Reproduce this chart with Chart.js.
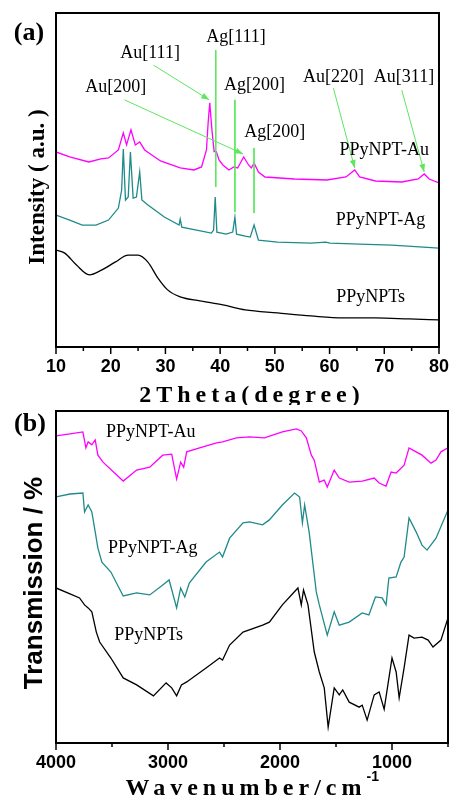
<!DOCTYPE html>
<html>
<head>
<meta charset="utf-8">
<script src="https://cdn.jsdelivr.net/npm/chart.js@4.4.1/dist/chart.umd.min.js"></script>
<style>
  body{margin:0;background:#fff;width:458px;height:801px;overflow:hidden;position:relative}
  .box{position:absolute;left:0;width:458px}
  #boxA{top:0;height:405px}
  #boxB{top:405px;height:396px}
</style>
</head>
<body>
<div class="box" id="boxA"><canvas id="xrd"></canvas></div>
<div class="box" id="boxB"><canvas id="ftir"></canvas></div>
<script>
// (a) XRD  2θ
const xrdTicks = [10,20,30,40,50,60,70,80];
const xrdMinor = [15,25,35,45,55,65,75];

// PPyNPT-Au
const auAngle = [10,12.5,16,18.2,19.6,21.4,22.3,22.9,23.7,24.5,25.3,26.2,29.1,32.7,35.2,36.6,37.5,37.8,38.1,38.5,38.9,39.3,39.8,40.5,41.6,42.5,43.2,44.3,45.2,45.7,46.2,47.0,48.2,53.6,59.5,63.0,64.6,65.5,68.4,73.2,76.2,77.3,78.2,80];
const auInt = [58.4,56.9,55.4,56.3,56.6,59.0,64.1,60.5,65.0,60.5,61.4,59.0,55.7,53.6,53.0,53.9,59.0,67.0,73.1,65.0,58.5,58.5,56.0,54.5,53.0,53.9,53.6,56.9,54.5,53.6,55.1,52.4,50.9,50.3,50.0,50.9,53.0,50.9,49.7,49.4,50.3,51.8,50.3,49.1];
// PPyNPT-Ag
const agAngle = [10,12.5,14.8,17.3,19.6,21.4,22.0,22.3,22.7,23.2,23.6,24.1,24.7,25.3,25.7,26.8,29.8,32.5,32.7,33.0,35.7,38.4,38.8,39.1,39.4,41.1,42.3,42.7,43.0,44.6,45.5,46.2,47.0,50.5,56.6,59.3,60.1,65.5,71.4,80];
const agInt = [39.5,38.0,36.5,36.5,38.0,41.6,47.0,59.3,44.0,44.9,58.4,44.6,44.9,52.4,44.0,42.5,38.9,36.5,38.3,35.9,35.0,34.1,35.0,44.9,34.4,33.8,34.4,38.9,33.8,33.2,32.9,36.5,32.0,31.4,31.1,31.4,31.1,30.8,30.5,29.6];
// PPyNPTs
const ppyAngle = [10,11.6,13.7,16.1,18.4,20.8,23.2,25.0,26.8,28.6,30.4,32.7,36.3,40.5,44.6,50.5,56.6,62.5,68.4,74.5,80];
const ppyInt = [29.0,28.1,24.6,21.6,23.1,25.4,27.5,27.5,25.4,20.7,17.1,15.0,13.8,12.6,11.1,10.2,9.3,8.7,8.7,8.4,8.1];

// (b) FTIR
const wnTicks = [4000,3000,2000,1000];
const wnMinor = [3500,2500,1500,500];

const ftAuWn = [4000,3875,3760,3733,3713,3680,3650,3626,3580,3400,3280,3163,3047,2967,2923,2887,2860,2833,2718,2566,2513,2389,2272,2139,1979,1854,1810,1765,1720,1694,1649,1605,1578,1516,1471,1382,1266,1159,1115,1053,1008,963,892,848,785,732,652,607,563,500];
const ftAuT = [92.5,93.1,93.7,88.9,90.7,89.8,91.3,86.7,84.6,78.9,82.2,83.1,86.7,87.0,79.5,84.6,83.1,87.7,88.9,90.4,90.7,91.9,92.2,91.9,93.7,94.6,94.0,91.9,86.7,85.2,78.6,79.2,77.1,82.2,79.8,78.6,78.9,79.8,78.3,77.4,81.6,81.3,83.7,88.9,87.7,86.7,84.3,85.2,87.7,88.9];
const ftAgWn = [4000,3875,3760,3745,3713,3680,3650,3626,3590,3510,3400,3280,3163,3047,2990,2923,2887,2850,2810,2660,2540,2513,2450,2330,2272,2155,2095,1979,1870,1825,1800,1780,1740,1676,1649,1578,1516,1471,1382,1266,1206,1148,1088,1053,1028,963,920,892,848,785,732,687,607,500];
const ftAgT = [74.1,75.0,75.3,69.6,71.7,69.6,63.6,58.7,54.5,51.5,44.3,45.2,44.6,47.6,49.1,40.7,46.7,44.0,48.2,54.5,57.5,56.0,61.7,66.3,66.6,65.7,67.2,71.7,75.3,74.1,66.3,71.7,63.6,45.5,41.6,32.5,39.5,35.5,36.4,39.2,38.6,44.0,43.7,41.6,49.7,50.0,54.5,56.0,67.8,63.6,59.6,58.1,61.7,70.2];
const ftPpyWn = [4000,3875,3790,3745,3713,3680,3640,3610,3510,3400,3280,3130,3017,2967,2923,2880,2833,2660,2540,2513,2450,2330,2155,2095,1979,1840,1810,1790,1750,1694,1649,1605,1570,1516,1471,1440,1382,1293,1266,1222,1159,1115,1070,1000,963,936,892,848,803,732,677,634,563,500];
const ftPpyT = [46.7,44.9,43.7,41.6,40.7,39.5,33.4,30.4,25.6,19.6,17.5,14.2,18.1,16.6,14.2,17.5,18.4,22.6,25.6,25.0,29.5,33.4,35.5,36.4,41.6,46.7,41.6,46.1,41.6,27.4,21.4,16.6,4.8,16.6,14.5,16.0,12.3,10.8,11.4,6.9,14.5,15.4,10.2,25.6,21.4,13.6,22.6,32.5,31.6,31.9,31.0,28.9,31.0,37.7];

// 注釈 (データ座標)  [x, yTop, yBottom]
const agLines = [[39.2,88.9,47.9],[42.7,74.0,40.4],[46.2,59.6,40.1]];
// 矢印 [x0,y0,x1,y1]
const auArrows = [[27.8,84.4,38.0,74.0],[22.5,74.0,44.2,57.8],[60.7,77.5,64.6,53.6],[73.2,76.9,77.3,52.4]];
const xrdNotes = [["Au[111]",27.2,88.0],["Ag[111]",42.9,92.8],["Au[200]",20.9,77.8],["Ag[200]",46.3,78.4],["Ag[200]",50.0,64.4],["Au[220]",60.7,80.8],["Au[311]",73.6,80.8],["PPyNPT-Au",70.0,59.0],["PPyNPT-Ag",69.3,38.0],["PPyNPTs",67.5,15.0]];
const ftirNotes = [["PPyNPT-Au",3154,93.7],["PPyNPT-Ag",3136,58.7],["PPyNPTs",3172,32.5]];

const green = '#5ee65e';
const magenta = '#ff00ff';
const teal = '#208a8a';

const pts = (xs, ys) => xs.map((v, i) => ({x: v, y: ys[i]}));
const trace = (xs, ys, color) => ({data: pts(xs, ys), borderColor: color, borderWidth: 1.3, pointRadius: 0, tension: 0});

// 枠・目盛り・文字
const decor = (cfg) => ({
  id: 'decor',
  afterDraw(chart) {
    const ctx = chart.ctx, a = chart.chartArea;
    const sx = chart.scales.x, sy = chart.scales.y;
    ctx.save();
    ctx.strokeStyle = '#000';
    ctx.lineWidth = 1.5;
    const tick = (v, len) => {
      const px = sx.getPixelForValue(v);
      ctx.beginPath(); ctx.moveTo(px, a.bottom); ctx.lineTo(px, a.bottom + len); ctx.stroke();
    };
    cfg.major.forEach(v => tick(v, 7));
    cfg.minor.forEach(v => tick(v, 4));
    ctx.lineWidth = 2;
    ctx.strokeRect(a.left, a.top, a.right - a.left, a.bottom - a.top);

    // 矢印の先
    ctx.fillStyle = green;
    (cfg.arrows || []).forEach(r => {
      const x0 = sx.getPixelForValue(r[0]), y0 = sy.getPixelForValue(r[1]);
      const x1 = sx.getPixelForValue(r[2]), y1 = sy.getPixelForValue(r[3]);
      const ang = Math.atan2(y1 - y0, x1 - x0), c = Math.cos(ang), s = Math.sin(ang);
      ctx.beginPath();
      ctx.moveTo(x1, y1);
      ctx.lineTo(x1 - 8 * c + 3 * s, y1 - 8 * s - 3 * c);
      ctx.lineTo(x1 - 8 * c - 3 * s, y1 - 8 * s + 3 * c);
      ctx.closePath(); ctx.fill();
    });

    ctx.fillStyle = '#000';
    ctx.textAlign = 'center'; ctx.textBaseline = 'middle';
    ctx.font = '18px "Liberation Serif"';
    cfg.notes.forEach(n => ctx.fillText(n[0], sx.getPixelForValue(n[1]), sy.getPixelForValue(n[2])));

    ctx.font = 'bold 26px "Liberation Serif"';
    ctx.fillText(cfg.panel, cfg.panelPos[0], cfg.panelPos[1]);

    // x軸タイトル (字間あり)
    ctx.font = cfg.xFont;
    ctx.letterSpacing = '5px';
    const w = ctx.measureText(cfg.xTitle).width;
    ctx.textAlign = 'left';
    ctx.fillText(cfg.xTitle, cfg.xTitlePos[0] - w / 2, cfg.xTitlePos[1]);
    ctx.letterSpacing = '0px';
    if (cfg.xSup) {
      ctx.font = 'bold 14px "Liberation Sans"';
      ctx.fillText(cfg.xSup, cfg.xTitlePos[0] + w / 2, cfg.xSupY);
    }

    // y軸タイトル
    ctx.translate(cfg.yTitlePos[0], cfg.yTitlePos[1]);
    ctx.rotate(-Math.PI / 2);
    ctx.font = cfg.yFont;
    ctx.textAlign = 'center';
    ctx.fillText(cfg.yTitle, 0, 0);
    ctx.restore();
  }
});

const tickFont = {family: '"Liberation Sans", Arial, sans-serif', size: 18, weight: 'bold'};

const xAxis = (min, max, tickList, height, reverse) => ({
  type: 'linear', min: min, max: max, reverse: reverse,
  grid: {display: false, drawTicks: false},
  border: {display: false},
  afterBuildTicks: (s) => { s.ticks = tickList.map(v => ({value: v})); },
  afterFit: (s) => { s.height = height; },
  ticks: {padding: 9, color: '#000', font: tickFont, maxRotation: 0, autoSkip: false, callback: (v) => String(v)}
});

const baseOptions = (top, xScale) => ({
  responsive: true,
  maintainAspectRatio: false,
  animation: false,
  layout: {padding: {left: 56, right: 10, top: top, bottom: 0}, autoPadding: false},
  plugins: {legend: {display: false}, tooltip: {enabled: false}},
  scales: {x: xScale, y: {display: false, min: 0, max: 100}}
});

// 緑の線
const xrdMarks = [];
agLines.forEach(l => xrdMarks.push({data: [{x: l[0], y: l[1]}, {x: l[0], y: l[2]}], borderColor: green, borderWidth: 1, pointRadius: 0}));
auArrows.forEach(r => xrdMarks.push({data: [{x: r[0], y: r[1]}, {x: r[2], y: r[3]}], borderColor: green, borderWidth: 1, pointRadius: 0}));

// PPyNPTs のXRDはなだらかなので補間
const ppyTrace = trace(ppyAngle, ppyInt, '#000');
ppyTrace.cubicInterpolationMode = 'monotone';

new Chart(document.getElementById('xrd'), {
  type: 'line',
  data: {datasets: xrdMarks.concat([
    trace(auAngle, auInt, magenta),
    trace(agAngle, agInt, teal),
    ppyTrace
  ])},
  options: baseOptions(13, xAxis(10, 80, xrdTicks, 58, false)),
  plugins: [decor({
    major: xrdTicks, minor: xrdMinor, arrows: auArrows, notes: xrdNotes,
    panel: '(a)', panelPos: [29, 33],
    xTitle: '2Theta(degree)', xFont: 'bold 24px "Liberation Serif"', xTitlePos: [252, 396],
    yTitle: 'Intensity ( a.u. )', yFont: 'bold 23px "Liberation Serif"', yTitlePos: [38, 187]
  })]
});

new Chart(document.getElementById('ftir'), {
  type: 'line',
  data: {datasets: [
    trace(ftAuWn, ftAuT, magenta),
    trace(ftAgWn, ftAgT, teal),
    trace(ftPpyWn, ftPpyT, '#000')
  ]},
  options: baseOptions(6, xAxis(500, 4000, wnTicks, 58, true)),
  plugins: [decor({
    major: wnTicks, minor: wnMinor, notes: ftirNotes,
    panel: '(b)', panelPos: [30, 19],
    xTitle: 'Wavenumber/cm', xFont: 'bold 24px "Liberation Serif"', xTitlePos: [246, 384],
    xSup: '-1', xSupY: 372,
    yTitle: 'Transmission / %', yFont: 'bold 26px "Liberation Sans"', yTitlePos: [35, 178]
  })]
});
</script>
</body>
</html>
